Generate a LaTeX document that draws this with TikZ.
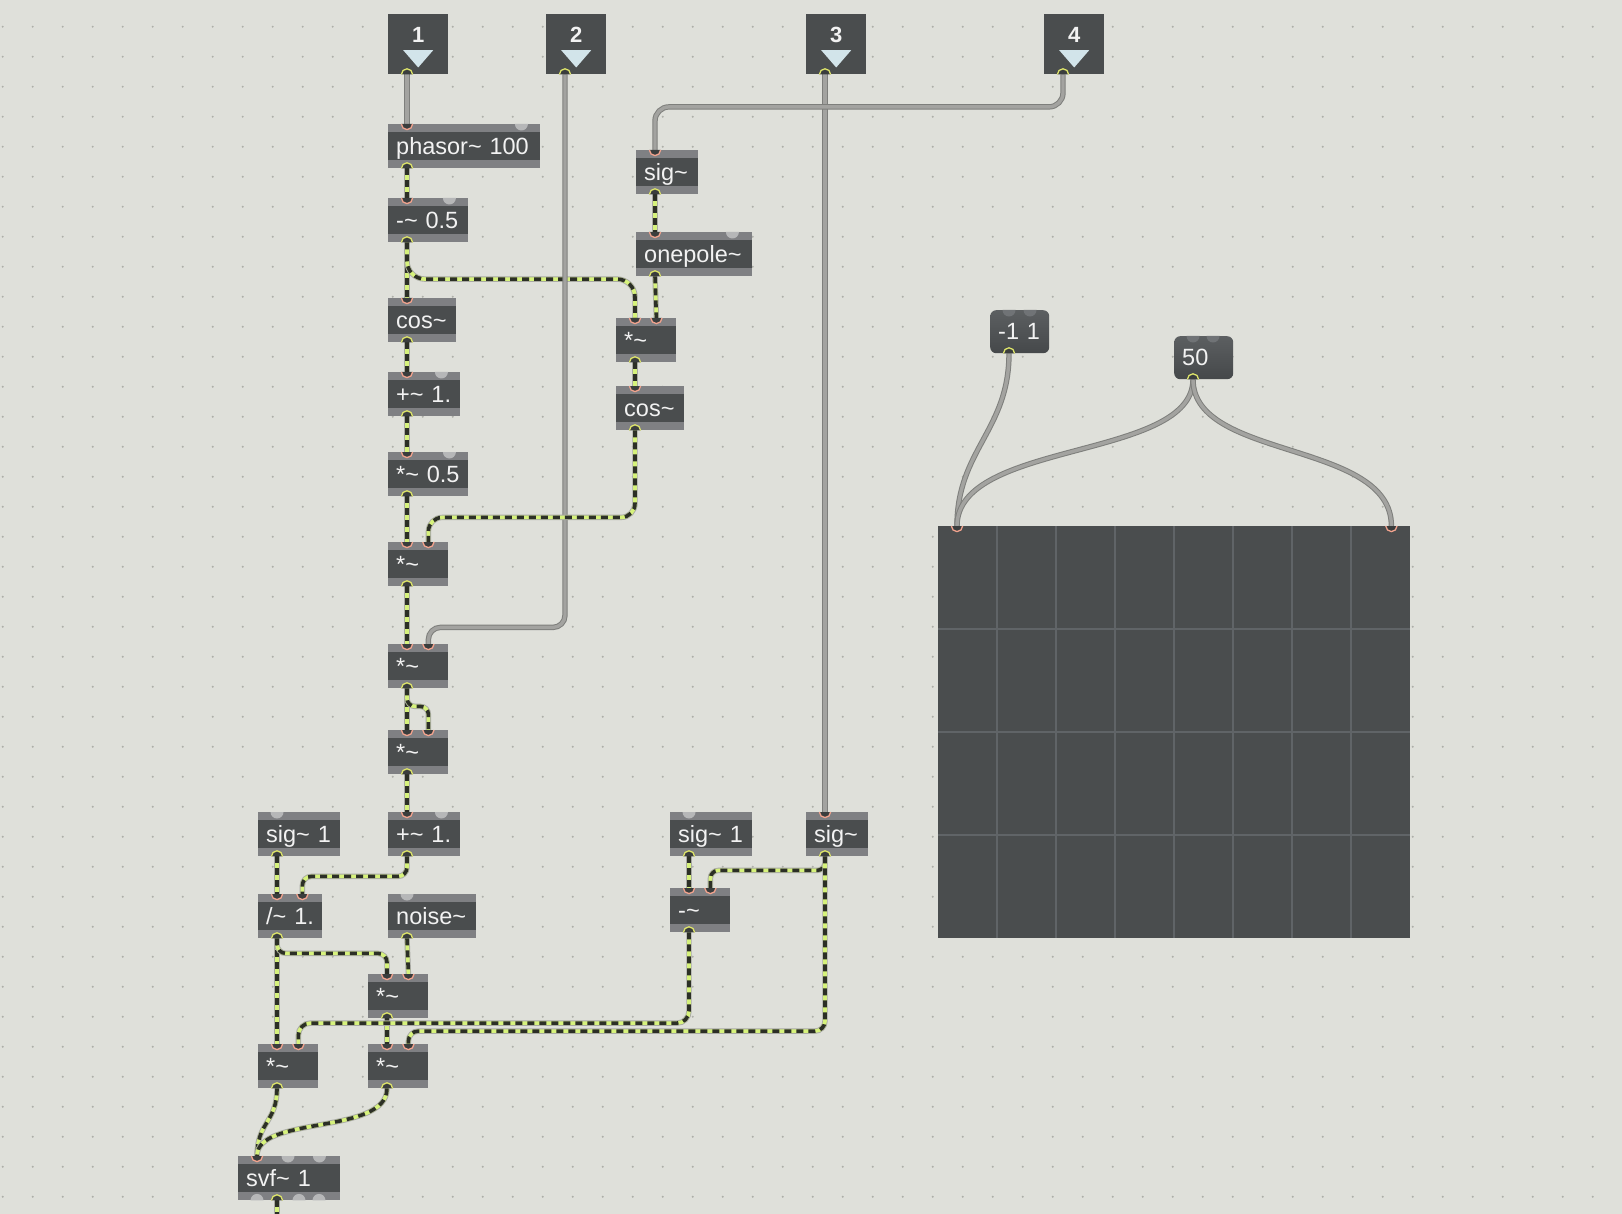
\documentclass[tikz,border=0pt]{standalone}
\usepackage{fontspec}
\setmainfont{Liberation Sans}
\usetikzlibrary{calc,positioning}

\definecolor{sfondo}{HTML}{DFE0DA}
\definecolor{puntini}{HTML}{AEAFA9}
\definecolor{scatola}{HTML}{4A4D4E}
\definecolor{striscia}{HTML}{7F8083}
\definecolor{testo}{HTML}{F2F2F2}
\definecolor{triangolo}{HTML}{D2E4EA}
\definecolor{rosa}{HTML}{F2A38E}
\definecolor{giallo}{HTML}{DDE46A}
\definecolor{buco}{HTML}{3A3D3D}
\definecolor{libero}{HTML}{B6B7B8}
\definecolor{liberomsg}{HTML}{707376}
\definecolor{segnale}{HTML}{D6F27C}
\definecolor{tratto}{HTML}{2C2F26}
\definecolor{bordo}{HTML}{A9AAA3}
\definecolor{cavo}{HTML}{A3A3A0}
\definecolor{cavobordo}{HTML}{7E7F7C}
\definecolor{msgalto}{HTML}{5C5F61}
\definecolor{msgbasso}{HTML}{45484A}
\definecolor{griglia}{HTML}{606467}

\tikzset{
  L/.style={xshift=19pt},%ingresso/uscita sinistra
  R/.style={xshift=-20pt},%ingresso destro
  strisce/.style={path picture={
      \fill[striscia] (path picture bounding box.north west) rectangle ([yshift=-8pt]path picture bounding box.north east);
      \fill[striscia] (path picture bounding box.south west) rectangle ([yshift=8pt]path picture bounding box.south east);}},
  obj/.style={strisce, fill=scatola, anchor=north west, inner xsep=8pt, inner ysep=0pt,
      minimum height=44pt, text height=20pt, text depth=4pt, text=testo,
      font=\fontsize{23.5}{28}\selectfont, align=left, text width=#1},
  msg/.style={rounded corners=6pt, top color=msgalto, bottom color=msgbasso, anchor=north west,
      inner xsep=8pt, inner ysep=0pt, minimum height=43pt, text height=20pt, text depth=4pt,
      text=testo, font=\fontsize{23.5}{28}\selectfont, align=left, text width=#1},
  inbox/.style={fill=scatola, anchor=north west, minimum width=60pt, minimum height=60pt,
      inner sep=0pt, text height=8pt, text depth=10.8pt, text=testo,
      font=\bfseries\fontsize{22}{24}\selectfont,
      path picture={\fill[triangolo] ([xshift=-15pt,yshift=-36pt]path picture bounding box.north)
        -- ([xshift=15pt,yshift=-36pt]path picture bounding box.north)
        -- ([yshift=-53.3pt]path picture bounding box.north) -- cycle;}},
  pannello/.style={fill=scatola, anchor=north west, minimum width=472pt, minimum height=412pt, inner sep=0pt,
      path picture={
        \foreach \k in {1,...,7} \draw[griglia, line width=1.5pt] ([xshift=\k*59pt]path picture bounding box.north west) -- ([xshift=\k*59pt]path picture bounding box.south west);
        \foreach \k in {1,2,3} \draw[griglia, line width=1.5pt] ([yshift=-\k*103pt]path picture bounding box.north west) -- ([yshift=-\k*103pt]path picture bounding box.north east);}},
  ctrl/.style={draw=cavobordo, line width=5.4pt, postaction={draw=cavo, line width=3.4pt}},
  sig/.style={draw=bordo, line width=5.4pt, postaction={draw=segnale, line width=3.6pt},
      postaction={draw=tratto, line width=3.6pt, dash pattern=on 7pt off 5pt}},
}

\newcommand\ingresso[1]{%
  \fill[buco] #1 ++(-5.6,0) arc[start angle=180,end angle=360,radius=5.6] -- cycle;
  \draw[rosa, line width=1.3pt] #1 ++(-5.6,0) arc[start angle=180,end angle=360,radius=5.6];}
\newcommand\uscita[1]{%
  \fill[buco] #1 ++(-5.6,0) arc[start angle=180,end angle=0,radius=5.6] -- cycle;
  \draw[giallo, line width=1.3pt] #1 ++(-5.6,0) arc[start angle=180,end angle=0,radius=5.6];}
\newcommand\liberoin[2][libero]{%
  \fill[#1] #2 ++(-6.5,0) arc[start angle=180,end angle=360,radius=6.5] -- cycle;}
\newcommand\liberout[1]{%
  \fill[libero] #1 ++(-6.5,0) arc[start angle=180,end angle=0,radius=6.5] -- cycle;}

\begin{document}
\begin{tikzpicture}[x=1pt,y=1pt]

  \useasboundingbox (0,0) rectangle (1622,-1214);
  \fill[sfondo] (0,0) rectangle (1622,-1214);%lo sfondo
  \foreach \i in {0,...,53}
    \foreach \j in {0,...,39}
      \fill[puntini] (2.7+30*\i,-26.7-30*\j) circle (1.1);%la griglia di punti

  \node[inbox] (in1) at (388,-14) {1};
  \node[inbox] (in2) at (546,-14) {2};
  \node[inbox] (in3) at (806,-14) {3};
  \node[inbox] (in4) at (1044,-14) {4};

  \node[obj=136pt] (phasor) at (388,-124) {phasor\textasciitilde{} 100};
  \node[obj=64pt] (sub05) at (388,-198) {-\textasciitilde{} 0.5};
  \node[obj=52pt] (cosL) at (388,-298) {cos\textasciitilde};
  \node[obj=56pt] (add1) at (388,-372) {+\textasciitilde{} 1.};
  \node[obj=64pt] (mul05) at (388,-452) {*\textasciitilde{} 0.5};
  \node[obj=44pt] (mulA) at (388,-542) {*\textasciitilde};
  \node[obj=44pt] (mulB) at (388,-644) {*\textasciitilde};
  \node[obj=44pt] (mulC) at (388,-730) {*\textasciitilde};
  \node[obj=56pt] (add1b) at (388,-812) {+\textasciitilde{} 1.};

  \node[obj=46pt] (sigR) at (636,-150) {sig\textasciitilde};
  \node[obj=100pt] (onepole) at (636,-232) {onepole\textasciitilde};
  \node[obj=44pt] (mulR) at (616,-318) {*\textasciitilde};
  \node[obj=52pt] (cosR) at (616,-386) {cos\textasciitilde};

  \node[obj=66pt] (sig1L) at (258,-812) {sig\textasciitilde{} 1};
  \node[obj=48pt] (div) at (258,-894) {/\textasciitilde{} 1.};
  \node[obj=72pt] (noise) at (388,-894) {noise\textasciitilde};
  \node[obj=44pt] (mulM) at (368,-974) {*\textasciitilde};
  \node[obj=44pt] (mulBL) at (258,-1044) {*\textasciitilde};
  \node[obj=44pt] (mulBR) at (368,-1044) {*\textasciitilde};
  \node[obj=86pt] (svf) at (238,-1156) {svf\textasciitilde{} 1};

  \node[obj=66pt] (sig1R) at (670,-812) {sig\textasciitilde{} 1};
  \node[obj=46pt] (sigB) at (806,-812) {sig\textasciitilde};
  \node[obj=44pt] (subR) at (670,-888) {-\textasciitilde};

  \node[msg=43pt] (msgA) at (990,-310) {-1 1};
  \node[msg=43pt] (msgB) at (1174,-336) {50};
  \node[pannello] (grid) at (938,-526) {};
  \coordinate (fine) at ([xshift=39pt,yshift=-20pt]svf.south west);%uscita verso il basso

  % cavi di controllo
  \draw[ctrl] ([L]in1.south west) -- ([L]phasor.north west);
  \draw[ctrl] ([L]in3.south west) -- ([L]sigB.north west);
  \draw[ctrl, rounded corners=14pt] ([L]in4.south west) -- ++(0,-32.5) -| ([L]sigR.north west);
  \draw[ctrl] ([L]msgA.south west) .. controls +(0,-77) and +(0,76) .. ([L]grid.north west);
  \draw[ctrl] ([L]msgB.south west) .. controls +(0,-81) and +(0,86) .. ([L]grid.north west);
  \draw[ctrl] ([L]msgB.south west) .. controls +(0,-81) and +(0,86) .. ([xshift=-19pt]grid.north east);

  % cavi di segnale
  \draw[sig] ([L]phasor.south west) -- ([L]sub05.north west);
  \draw[sig] ([L]sub05.south west) -- ([L]cosL.north west);
  \draw[sig, rounded corners=18pt] ([L]sub05.south west) -- ++(0,-36.7) -| ([L]mulR.north west);
  \draw[ctrl, rounded corners=12pt] ([L]in2.south west) -- ++(0,-553) -| ([R]mulB.north east);
  \draw[sig] ([L]cosL.south west) -- ([L]add1.north west);
  \draw[sig] ([L]add1.south west) -- ([L]mul05.north west);
  \draw[sig] ([L]mul05.south west) -- ([L]mulA.north west);
  \draw[sig] ([L]sigR.south west) -- ([L]onepole.north west);
  \draw[sig] ([L]onepole.south west) -- ([R]mulR.north east);
  \draw[sig] ([L]mulR.south west) -- ([L]cosR.north west);
  \draw[sig, rounded corners=14pt] ([L]cosR.south west) -- ++(0,-87) -| ([R]mulA.north east);
  \draw[sig] ([L]mulA.south west) -- ([L]mulB.north west);
  \draw[sig] ([L]mulB.south west) -- ([L]mulC.north west);
  \draw[sig, rounded corners=8pt] ([L]mulB.south west) -- ++(0,-18) -| ([R]mulC.north east);
  \draw[sig] ([L]mulC.south west) -- ([L]add1b.north west);
  \draw[sig, rounded corners=9pt] ([L]add1b.south west) -- ++(0,-20) -| ([R]div.north east);
  \draw[sig] ([L]sig1L.south west) -- ([L]div.north west);
  \draw[sig] ([L]div.south west) -- ([L]mulBL.north west);
  \draw[sig, rounded corners=9pt] ([L]div.south west) -- ++(0,-15) -| ([L]mulM.north west);
  \draw[sig] ([L]noise.south west) -- ([R]mulM.north east);
  \draw[sig] ([L]mulM.south west) -- ([L]mulBR.north west);
  \draw[sig] ([L]sig1R.south west) -- ([L]subR.north west);
  \draw[sig, rounded corners=8pt] ([L]sigB.south west) -- ++(0,-14) -| ([R]subR.north east);
  \draw[sig, rounded corners=12pt] ([L]subR.south west) -- ++(0,-90.7) -| ([R]mulBL.north east);
  \draw[sig, rounded corners=10pt] ([L]sigB.south west) -- ++(0,-174.7) -| ([R]mulBR.north east);
  \draw[sig] ([L]mulBL.south west) .. controls +(0,-34) and +(0,34) .. ([L]svf.north west);
  \draw[sig] ([L]mulBR.south west) .. controls +(0,-47) and +(0,41) .. ([L]svf.north west);
  \draw[sig] ([xshift=39pt]svf.south west) -- (fine);

  % ingressi e uscite
  \foreach \n in {phasor,sub05,cosL,add1,mul05,mulA,mulB,mulC,add1b,sigR,onepole,mulR,cosR,div,mulM,mulBL,mulBR,svf,subR,sigB,grid}
    \ingresso{([L]\n.north west)};
  \foreach \n in {mulA,mulB,mulC,mulR,div,mulM,mulBL,mulBR,subR}
    \ingresso{([R]\n.north east)};
  \ingresso{([xshift=-19pt]grid.north east)};
  \foreach \n in {in1,in2,in3,in4,phasor,sub05,cosL,add1,mul05,mulA,mulB,mulC,add1b,sigR,onepole,mulR,cosR,sig1L,div,noise,mulM,mulBL,mulBR,sig1R,subR,sigB,msgA,msgB}
    \uscita{([L]\n.south west)};
  \uscita{([xshift=39pt]svf.south west)};
  \foreach \n in {phasor,sub05,add1,mul05,add1b}
    \liberoin{([xshift=-19pt]\n.north east)};
  \liberoin{([R]onepole.north east)};
  \foreach \n in {sig1L,sig1R,noise}
    \liberoin{([L]\n.north west)};
  \liberoin{([xshift=50pt]svf.north west)};
  \liberoin{([xshift=-21pt]svf.north east)};
  \liberout{([L]svf.south west)};
  \liberout{([xshift=61pt]svf.south west)};
  \liberout{([xshift=81pt]svf.south west)};
  \liberoin[liberomsg]{([L]msgA.north west)};
  \liberoin[liberomsg]{([xshift=40pt]msgA.north west)};
  \liberoin[liberomsg]{([L]msgB.north west)};
  \liberoin[liberomsg]{([xshift=39pt]msgB.north west)};
\end{tikzpicture}
\end{document}
